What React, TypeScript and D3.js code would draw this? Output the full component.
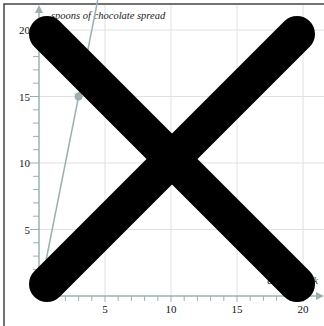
import React from 'react'
import { scaleLinear, range, line } from 'd3'

// values
const xMajor = [5, 10, 15, 20]
const yMajor = [5, 10, 15, 20]
const pointX = [3]
const pointY = [15]
const lineX = [0, 3]
const lineY = [0, 15]
const yLabel = 'spoons of chocolate spread'
const xLabel = 'days a week'

const W = 324, H = 326
const axisColor = '#9cb0b0'
const serif = 'Liberation Serif, Times New Roman, serif'

const App = () => {
    const x = scaleLinear().domain([0, 20]).range([39, 303])
    const y = scaleLinear().domain([0, 20]).range([296, 30])

    const minor = range(1, 21)
    // extend the line past the top of the board
    const slope = (lineY[1] - lineY[0]) / (lineX[1] - lineX[0])
    const yTop = y.invert(0)
    const ends: [number, number][] = [[lineX[0], lineY[0]], [lineX[0] + (yTop - lineY[0]) / slope, yTop]]
    const path = line<[number, number]>().x(d => x(d[0])).y(d => y(d[1]))(ends)

    const x0 = x(0), y0 = y(0)

    return (
        <svg width={W} height={H} style={{ position: 'absolute', left: 0, top: 0, background: '#fff' }}>
            <rect x={4} y={4} width={W} height={H} fill='none' stroke='#444' strokeWidth={1.5} />

            {/* grid */}
            {xMajor.map(v => <line key={'gx' + v} x1={x(v)} x2={x(v)} y1={5} y2={y0} stroke='#e0e0e0' />)}
            {yMajor.map(v => <line key={'gy' + v} x1={x0} x2={W} y1={y(v)} y2={y(v)} stroke='#e0e0e0' />)}

            {/* axes */}
            <line x1={x0} x2={x0} y1={y0} y2={13} stroke={axisColor} strokeWidth={1.5} />
            <path d={`M${x0 - 4},${13} L${x0},${5} L${x0 + 4},${13} Z`} fill={axisColor} />
            <line x1={x0} x2={316} y1={y0} y2={y0} stroke={axisColor} strokeWidth={1.5} />
            <path d={`M316,${y0 - 4} L324,${y0} L316,${y0 + 4} Z`} fill={axisColor} />

            {minor.map(v => {
                const major = v % 5 === 0
                return (
                    <g key={'t' + v}>
                        <line x1={x(v)} x2={x(v)} y1={y0} y2={y0 + (major ? 6 : 5)} stroke={axisColor} />
                        <line x1={x0 - (major ? 9 : 6)} x2={x0} y1={y(v)} y2={y(v)} stroke={axisColor} />
                    </g>
                )
            })}

            <g style={{ fontFamily: serif, fontSize: '11px' }} fill='#111'>
                {xMajor.map(v => <text key={'lx' + v} x={x(v)} y={y0 + 17} textAnchor='middle'>{v}</text>)}
                {yMajor.map(v => <text key={'ly' + v} x={x0 - 9} y={y(v) + 4} textAnchor='end'>{v}</text>)}
            </g>
            <g style={{ fontFamily: serif, fontSize: '10.5px', fontStyle: 'italic' }} fill='#222'>
                <text x={x0 + 12} y={19}>{yLabel}</text>
                <text x={318} y={284} textAnchor='end'>{xLabel}</text>
            </g>

            {/* line and point */}
            <path d={path ?? ''} fill='none' stroke={axisColor} strokeWidth={1.5} />
            {pointX.map((v, i) => <circle key={'p' + i} cx={x(v)} cy={y(pointY[i])} r={4} fill={axisColor} />)}

            {/* cross over the whole board */}
            <g stroke='#000' strokeWidth={36} strokeLinecap='round'>
                <line x1={47} y1={34} x2={297} y2={284} />
                <line x1={47} y1={284} x2={297} y2={34} />
            </g>
        </svg>
    )
}

export default App
